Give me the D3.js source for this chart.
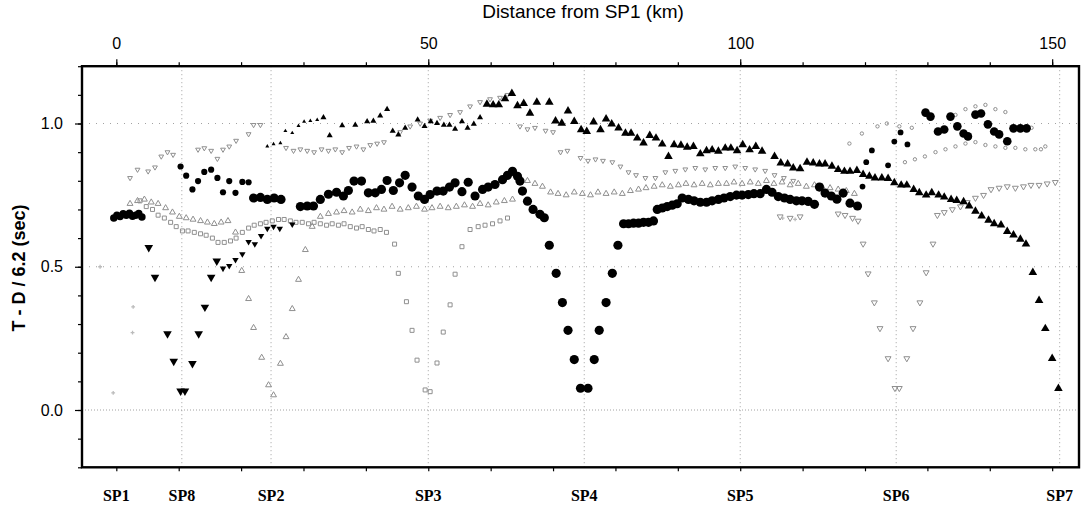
<!DOCTYPE html>
<html>
<head>
<meta charset="utf-8">
<script src="https://cdn.jsdelivr.net/npm/d3@7"></script>
<style>
  body { margin: 0; background: #fff; }
  text { font-family: "Liberation Sans", Arial, sans-serif; }
  text.sp { font-family: "Liberation Serif", "Times New Roman", serif; }
</style>
</head>
<body>
<svg id="chart" width="1083" height="508"></svg>
<script>
// shot points along the line (km from SP1)
const shotNames = ["SP1", "SP8", "SP2", "SP3", "SP4", "SP5", "SP6", "SP7"]
const shotKm = [0, 10.5, 24.8, 50, 75, 100, 125, 151.2]
const distTicks = [0, 50, 100, 150]
const timeTicks = [0.0, 0.5, 1.0]

// picks, [km, reduced time in sec]
const sp1Cluster = [[-0.4,0.67],[0.1,0.68],[0.6,0.675],[1.1,0.685],[1.6,0.68],[2.1,0.687],[2.6,0.676],[3.1,0.68],[3.6,0.686],[4.1,0.674]]

const sp8Picks = [[5.2,0.567],[6.2,0.463],[8.2,0.266],[9.2,0.17],[10.3,0.066],[11.0,0.066],[12.2,0.162],[13.2,0.266],[14.2,0.359],[15.2,0.463],
  [16.1,0.52],[17.1,0.494],[18.1,0.503],[19.1,0.524],[20.2,0.544],[21.2,0.587],[22.2,0.579],[23.2,0.608],[24.2,0.633],[25.2,0.64],[26.2,0.633],[28.2,0.648]]

const sp4Picks = [[22.0,0.74],[23.1,0.742],[24.2,0.735],[25.3,0.74],[26.4,0.735],[29.5,0.71],[30.6,0.712],[31.6,0.712],[32.7,0.735],[34.0,0.753],
  [35.3,0.76],[36.4,0.747],[37.2,0.766],[38.1,0.799],[39.3,0.799],[40.4,0.758],[41.5,0.758],[42.5,0.77],[43.4,0.801],[44.4,0.766],
  [45.4,0.793],[46.3,0.819],[47.4,0.778],[48.4,0.747],[49.4,0.735],[50.3,0.752],[51.4,0.764],[52.4,0.764],[53.4,0.778],[54.3,0.793],
  [55.4,0.762],[56.4,0.795],[57.5,0.747],[58.7,0.77],[59.6,0.778],[60.7,0.787],[61.9,0.804],[62.7,0.819],[63.5,0.833],[64.3,0.816],
  [64.7,0.799],[65.1,0.764],[65.9,0.729],[66.8,0.70],[67.9,0.683],[68.6,0.671],[69.4,0.575],[70.5,0.477],[71.5,0.375],[72.4,0.278],
  [73.4,0.176],[74.4,0.076],[75.6,0.076],[76.6,0.176],[77.4,0.278],[78.5,0.375],[79.5,0.477],[80.4,0.575],[81.3,0.65],[82.1,0.65],
  [82.9,0.652],[83.7,0.652],[84.5,0.655],[85.3,0.655],[86.1,0.66],[86.7,0.70],[87.5,0.705],[88.3,0.71],[89.1,0.715],[89.9,0.72],
  [90.7,0.74],[91.7,0.735],[92.6,0.73],[93.6,0.725],[94.6,0.725],[95.5,0.73],[96.5,0.735],[97.4,0.74],[98.4,0.745],[99.4,0.75],
  [100.3,0.75],[101.3,0.752],[102.2,0.755],[103.2,0.755],[104.2,0.77],[105.1,0.76],[106.1,0.745],[107.1,0.74],[108.0,0.735],[109.0,0.73],
  [109.9,0.73],[110.9,0.728],[111.9,0.718],[112.7,0.778],[113.6,0.757],[114.6,0.747],[115.5,0.736],[116.5,0.757],[117.6,0.722],[118.8,0.712]]

const dotsNearSP8 = [[10.3,0.85],[11.2,0.818],[12.2,0.77],[13.1,0.799],[14.1,0.831],[15.2,0.839],[16.2,0.81],[17.1,0.76],[18.1,0.799],[19.1,0.758],[20.2,0.796],[21.2,0.795]]
const dotsNearSP6 = [[119.6,0.78],[120.2,0.865],[121.1,0.906],[123.7,0.854],[124.7,0.937],[125.7,0.969],[126.8,0.927]]
const dotsUpperRight = [[129.7,1.038],[130.5,1.024],[131.7,0.972],[132.7,0.979],[133.7,1.024],[134.8,0.99],[135.8,0.965],[136.5,0.955],
  [137.7,1.031],[138.6,1.035],[139.7,0.997],[140.7,0.972],[141.5,0.962],[142.8,0.938],[143.8,0.983],[144.9,0.983],[145.9,0.983]]

const sp7Picks = [[24.2,0.92],[25.2,0.928],[26.3,0.932],[27.1,0.974],[28.2,0.967],[29.2,0.992],[30.1,1.007],[31.1,1.009],[32.2,1.013],[33.2,1.021],
  [34.2,0.958],[36.2,0.993],[38.3,0.995],[40.2,1.007],[41.2,1.009],[42.3,1.027],[43.4,1.05],[44.3,0.974],[45.2,0.961],[46.3,0.984],
  [48.3,1.013],[49.4,0.99],[50.4,1.007],[51.4,1.001],[52.5,0.995],[53.4,0.995],[54.3,0.981],[55.4,1.007],[56.3,0.984],[57.3,0.998],
  [58.3,1.021],[59.4,1.067],[60.4,1.065],[61.3,1.065],[62.3,1.086],[63.4,1.105],[64.3,1.062],[65.3,1.07],[66.3,1.036],[67.4,1.074],
  [69.4,1.074],[70.4,1.009],[71.4,1.001],[72.4,1.044],[73.4,1.007],[74.5,0.978],[75.4,0.972],[76.5,1.005],[77.6,0.978],[78.5,1.016],
  [79.4,0.998],[80.5,0.984],[81.6,0.966],[82.5,0.966],[83.5,0.949],[84.5,0.932],[85.5,0.958],[86.5,0.949],[87.5,0.928],[88.5,0.885],
  [89.4,0.926],[90.5,0.924],[91.5,0.917],[92.5,0.92],[93.6,0.894],[94.6,0.905],[95.5,0.908],[96.5,0.903],[97.6,0.914],[98.5,0.914],
  [99.5,0.905],[100.4,0.926],[101.5,0.908],[102.5,0.92],[103.5,0.903],[105.5,0.885],[106.5,0.862],[107.6,0.859],[108.5,0.845],[109.6,0.842],
  [110.7,0.865],[111.7,0.862],[112.7,0.859],[113.6,0.859],[114.7,0.851],[115.7,0.839],[116.7,0.833],[117.6,0.833],[118.7,0.836],[119.7,0.822],
  [120.7,0.816],[121.6,0.81],[122.7,0.81],[123.7,0.808],[124.7,0.793],[125.8,0.785],[126.7,0.785],[127.8,0.77],[128.7,0.758],[129.8,0.75],
  [130.7,0.758],[131.8,0.75],[132.7,0.743],[133.8,0.735],[134.7,0.731],[135.8,0.727],[136.7,0.712],[137.7,0.694],[138.7,0.677],[139.8,0.662],
  [140.7,0.65],[141.8,0.646],[142.8,0.623],[143.8,0.611],[144.9,0.596],[145.8,0.579],[146.9,0.48],[147.9,0.382],[148.9,0.284],[150.0,0.18],[151.0,0.075]]

// grey (open symbol) picks
const greyUpper = [[2.2,0.81],[3.4,0.839],[5.1,0.833],[6.2,0.847],[7.2,0.885],[8.2,0.9],[9.1,0.891],[13.1,0.909],[14.1,0.914],[15.2,0.905],
  [16.2,0.877],[17.1,0.909],[18.1,0.92],[19.2,0.94],[21.2,0.963],[22.0,0.995],[23.1,0.995],[27.2,0.915],[28.4,0.905],[29.5,0.91],
  [30.6,0.905],[31.7,0.9],[32.9,0.91],[34.0,0.905],[35.1,0.91],[36.2,0.9],[37.3,0.915],[38.5,0.92],[39.6,0.91],[40.7,0.925],
  [41.8,0.93],[42.9,0.935],[45.5,0.97],[47.1,0.99],[48.7,1.0],[50.3,1.01],[51.9,1.02],[53.5,1.03],[55.1,1.04],[56.7,1.06],
  [58.3,1.075],[59.9,1.085],[61.5,1.09],[62.7,1.1],[64.7,0.99],[65.9,0.98],[67.1,0.985],[68.8,0.975],[70.0,0.97],[71.2,0.9],
  [72.3,0.905],[74.4,0.88],[75.6,0.87],[76.8,0.875],[78.0,0.87],[79.5,0.865],[80.8,0.85],[82.1,0.83],[83.3,0.82],[84.8,0.81],
  [86.4,0.81],[88.0,0.83],[89.6,0.835],[91.2,0.84],[92.8,0.845],[94.4,0.84],[96.0,0.845],[97.6,0.845],[99.2,0.85],[100.8,0.845],
  [102.4,0.84],[104.0,0.835],[105.5,0.82],[107.0,0.81],[108.5,0.8]]

const greyBand = [[3.8,0.73],[4.8,0.71],[5.8,0.70],[6.7,0.68],[7.7,0.67],[8.7,0.655],[9.6,0.64],[10.6,0.625],[11.5,0.625],[12.5,0.62],
  [13.5,0.615],[14.4,0.61],[15.4,0.60],[16.3,0.585],[17.3,0.585],[18.3,0.59],[19.2,0.60],[20.2,0.62],[21.2,0.635],[22.1,0.645],
  [23.1,0.65],[24.0,0.655],[25.0,0.66],[26.0,0.665],[26.9,0.665],[27.9,0.66],[28.8,0.655],[29.8,0.655],[30.8,0.65],[31.7,0.655],
  [32.7,0.65],[33.7,0.645],[34.6,0.65],[35.6,0.645],[36.5,0.65],[37.5,0.64],[38.5,0.635],[39.4,0.64],[40.4,0.63],[41.3,0.625],
  [42.3,0.63],[43.3,0.62],[44.6,0.579],[45.2,0.477],[46.5,0.378],[47.4,0.278],[48.2,0.174],[49.5,0.07],[50.3,0.064],[51.4,0.164],
  [52.4,0.272],[53.5,0.367],[54.3,0.474],[55.4,0.57],[56.7,0.63],[58.0,0.64],[59.1,0.645],[60.3,0.65],[61.5,0.66],[62.7,0.67]]

const sp2Picks = [[2.2,0.72],[3.4,0.73],[4.5,0.735],[5.6,0.725],[6.7,0.72],[7.9,0.705],[9.0,0.69],[10.1,0.675],[11.2,0.67],[12.3,0.665],
  [13.5,0.66],[14.6,0.655],[15.7,0.65],[16.8,0.655],[17.9,0.66],[19.1,0.62],[20.1,0.486],[21.2,0.388],[22.0,0.287],[23.3,0.183],
  [24.4,0.087],[25.2,0.052],[26.3,0.162],[27.2,0.255],[28.2,0.353],[29.2,0.455],[30.3,0.559],[31.4,0.64],[32.7,0.675],[34.0,0.685],
  [35.3,0.69],[36.5,0.695],[37.8,0.69],[39.1,0.70],[40.4,0.695],[41.7,0.705],[42.9,0.70],[44.2,0.71],[45.5,0.70],[46.8,0.705],
  [48.1,0.71],[49.4,0.70],[50.6,0.705],[51.9,0.71],[53.2,0.705],[54.5,0.71],[55.8,0.715],[57.1,0.71],[58.3,0.72],[59.6,0.715],
  [60.9,0.725],[62.2,0.73],[63.5,0.735],[65.9,0.80],[67.1,0.79],[68.3,0.78],[69.6,0.76],[70.8,0.755],[72.1,0.75],[73.4,0.76],
  [74.7,0.755],[76.0,0.75],[77.2,0.76],[78.5,0.755],[79.8,0.76],[81.1,0.755],[82.4,0.765],[83.7,0.77],[84.9,0.775],[86.2,0.78],
  [87.5,0.785],[88.8,0.78],[90.1,0.785],[91.3,0.79],[92.6,0.785],[93.9,0.79],[95.2,0.785],[96.5,0.79],[97.8,0.79],[99.0,0.795],
  [100.3,0.79],[101.6,0.795],[102.9,0.79],[104.2,0.8],[105.4,0.79],[106.7,0.795],[108.0,0.785],[109.3,0.79],[110.6,0.78],[111.9,0.785],
  [113.1,0.78],[114.4,0.775],[115.7,0.77],[117.0,0.765],[118.3,0.755]]

const sp6Picks = [[106.4,0.675],[108.0,0.67],[109.6,0.675],[115.7,0.685],[116.8,0.68],[118.0,0.67],[118.9,0.66],[119.7,0.58],[120.5,0.476],[121.5,0.375],
  [122.4,0.285],[123.7,0.18],[124.8,0.076],[125.5,0.076],[126.7,0.18],[127.7,0.285],[128.8,0.375],[129.8,0.48],[130.9,0.58],[131.6,0.68],
  [132.7,0.69],[134.0,0.70],[135.3,0.71],[136.4,0.725],[137.7,0.74],[139.0,0.75],[140.2,0.77],[141.5,0.775],[142.8,0.78],[144.1,0.775],
  [145.4,0.78],[146.6,0.785],[147.9,0.785],[149.2,0.79],[150.5,0.795]]

const greyNE = [[117.5,0.93],[119.5,0.965],[122.0,0.99],[123.5,1.0],[125.5,0.99],[127.5,0.985],[126.4,0.865],[128.0,0.875],[129.6,0.885],[131.3,0.9],
  [132.9,0.91],[134.5,0.92],[136.1,0.93],[137.7,0.935],[139.3,0.925],[140.9,0.92],[142.5,0.915],[144.1,0.915],[145.7,0.91],[147.3,0.91],
  [148.9,0.92],[134.5,1.03],[136.1,1.05],[137.7,1.06],[139.3,1.065],[140.9,1.05],[142.5,1.04],[146.7,0.985],[148.2,0.91]]

const greyStray = [[-2.6,0.5],[-0.5,0.06],[2.7,0.36],[2.6,0.27],[106.8,0.67],[108.8,0.665]]

const svg = d3.select("#chart")

const x = d3.scaleLinear().domain([-5.5, 154.3]).range([82, 1079])
const y = d3.scaleLinear().domain([-0.2, 1.2]).range([467.3, 66.2])

// dotted reference lines
const grid = svg.append("g").attr("stroke", "#8a8a8a").attr("stroke-width", 0.8)
grid.selectAll("line.v")
    .data(shotKm.slice(1))
    .enter()
    .append("line")
    .attr("x1", d => x(d)).attr("x2", d => x(d))
    .attr("y1", y.range()[1]).attr("y2", y.range()[0])
    .attr("stroke-dasharray", "1,3")
grid.selectAll("line.h")
    .data(timeTicks)
    .enter()
    .append("line")
    .attr("x1", x.range()[0]).attr("x2", x.range()[1])
    .attr("y1", d => y(d)).attr("y2", d => y(d))
    .attr("stroke-dasharray", d => d === 0 ? "1,2" : "1,6")

function drawSymbols(data, type, size, opts) {
    let g = svg.append("g")
    g.selectAll("path")
        .data(data)
        .enter()
        .append("path")
        .attr("d", d => d3.symbol().type(type).size(typeof size === "function" ? size(d) : size)())
        .attr("transform", d => `translate(${x(d[0])},${y(d[1])})` + (opts.flip ? " rotate(180)" : ""))
        .attr("fill", opts.fill)
        .attr("stroke", opts.stroke || "none")
        .attr("stroke-width", opts.sw || 0)
    return g
}

const grey = "#8f8f8f"
const greyOpen = {fill: "none", stroke: grey, sw: 1}

// grey open symbols first
drawSymbols(greyUpper, d3.symbolTriangle, 10, Object.assign({flip: true}, greyOpen))
drawSymbols(greyBand, d3.symbolSquare, 16, greyOpen)
drawSymbols(sp2Picks, d3.symbolTriangle, 15, greyOpen)
drawSymbols(sp6Picks, d3.symbolTriangle, 15, Object.assign({flip: true}, greyOpen))
drawSymbols(greyNE, d3.symbolCircle, 9, greyOpen)
drawSymbols(greyStray, d3.symbolCross, 8, {fill: "#bbb"})

// black filled symbols
drawSymbols(sp1Cluster, d3.symbolCircle, 44, {fill: "#000"})
drawSymbols(dotsNearSP8, d3.symbolCircle, 30, {fill: "#000"})
drawSymbols(dotsNearSP6, d3.symbolCircle, 26, {fill: "#000"})
drawSymbols(dotsUpperRight, d3.symbolCircle, 58, {fill: "#000"})
drawSymbols(sp4Picks, d3.symbolCircle, 66, {fill: "#000"})
drawSymbols(sp8Picks, d3.symbolTriangle, d => Math.abs(d[0] - shotKm[1]) < 6 ? 32 : 18, {fill: "#000", flip: true})
drawSymbols(sp7Picks, d3.symbolTriangle, d => {
    let off = shotKm[7] - d[0]
    return off > 118 ? 7 : off > 92 ? 16 : 32
}, {fill: "#000"})

// frame
svg.append("rect")
    .attr("x", x.range()[0]).attr("y", y.range()[1])
    .attr("width", x.range()[1] - x.range()[0])
    .attr("height", y.range()[0] - y.range()[1])
    .attr("fill", "none")
    .attr("stroke", "#000")
    .attr("stroke-width", 2.4)

// top distance axis
let minorKm = d3.range(0, 151, 10)
let topMinor = svg.append("g").attr("transform", `translate(0,${y.range()[1]})`)
    .call(d3.axisTop(x).tickValues(minorKm).tickSize(4).tickFormat(""))
let topMajor = svg.append("g").attr("transform", `translate(0,${y.range()[1]})`)
    .call(d3.axisTop(x).tickValues(distTicks).tickSize(7).tickPadding(10).tickFormat(d3.format("d")))
let botMinor = svg.append("g").attr("transform", `translate(0,${y.range()[0]})`)
    .call(d3.axisBottom(x).tickValues(minorKm).tickSize(4).tickFormat(""))

// left time axis
let leftMinor = svg.append("g").attr("transform", `translate(${x.range()[0]},0)`)
    .call(d3.axisLeft(y).tickValues(d3.range(-0.2, 1.21, 0.1)).tickSize(4).tickFormat(""))
let leftMajor = svg.append("g").attr("transform", `translate(${x.range()[0]},0)`)
    .call(d3.axisLeft(y).tickValues(timeTicks).tickSize(7).tickPadding(12).tickFormat(d3.format(".1f")))

for (let a of [topMinor, topMajor, botMinor, leftMinor, leftMajor]) {
    a.select(".domain").remove()
    a.selectAll(".tick line").attr("stroke", "#000").attr("stroke-width", 1.2)
    a.selectAll("text").attr("font-size", 16).attr("fill", "#000")
}

svg.append("text")
    .attr("x", 583).attr("y", 18)
    .attr("text-anchor", "middle")
    .attr("font-size", 19)
    .text("Distance from SP1 (km)")

svg.append("text")
    .attr("transform", "translate(25,268) rotate(-90)")
    .attr("text-anchor", "middle")
    .attr("font-size", 18)
    .attr("font-weight", "bold")
    .text("T - D / 6.2 (sec)")

// shot point names under the frame
svg.append("g").selectAll("text")
    .data(shotNames)
    .enter()
    .append("text")
    .attr("class", "sp")
    .attr("x", (d, i) => x(shotKm[i]))
    .attr("y", 501)
    .attr("text-anchor", "middle")
    .attr("font-weight", "bold")
    .attr("font-size", 16)
    .text(d => d)
</script>
</body>
</html>
